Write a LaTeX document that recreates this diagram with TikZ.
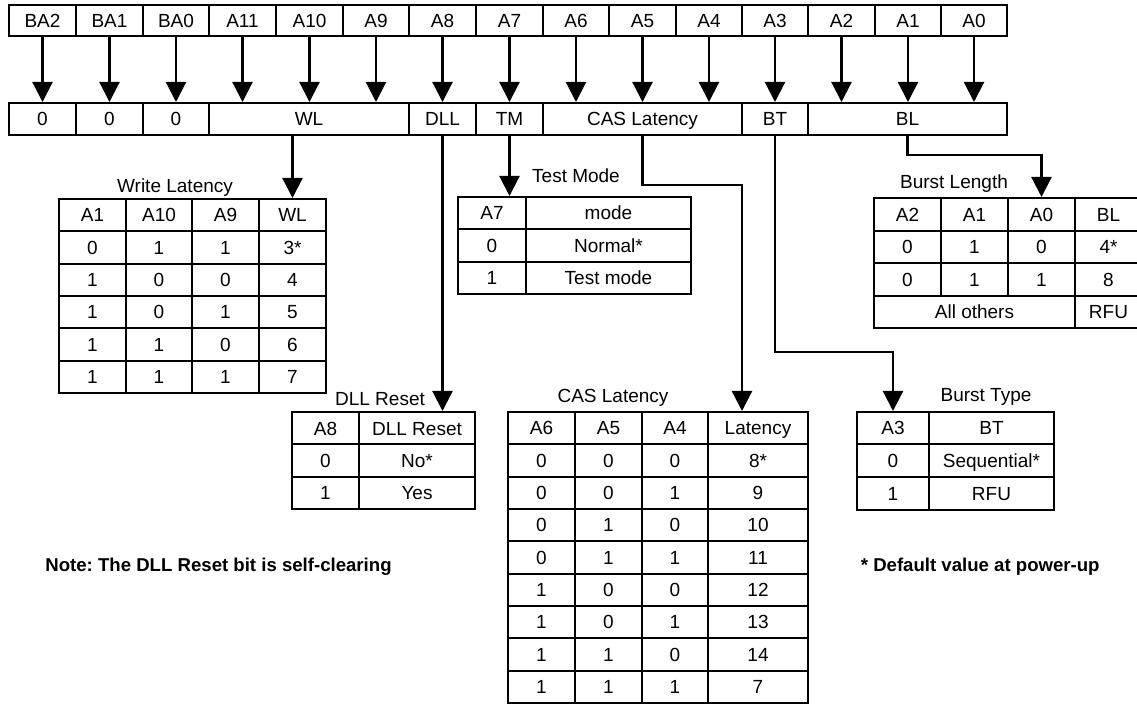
\documentclass[tikz,border=0pt]{standalone}
\usepackage{fontspec}
\setmainfont{Liberation Sans}
\usetikzlibrary{arrows.meta}
\frenchspacing
\newcommand\mycell[6]{%
 \pgfmathsetmacro\mcw{(#4-#2)*0.5}%
 \pgfmathsetmacro\mch{(#5-#3)*0.5}%
 \node[cellst, minimum width=\mcw pt, minimum height=\mch pt] (#1) at ({(#2+#4)/2},{(#3+#5)/2}) {#6};}
\newcommand\tabrow[4]{\foreach \xa/\xb/\tx [count=\ci] in {#4}{\mycell{#1\ci}{\xa}{#2}{\xb}{#3}{\tx}}}
\tikzset{
 cellst/.style={draw, line width=1pt, inner sep=0pt, text height=6.8pt, text depth=0pt, font=\fontsize{9.5}{11}\selectfont},
 ttl/.style={anchor=base, inner sep=0pt, font=\fontsize{9.5}{11}\selectfont},
 note/.style={inner sep=0pt, font=\fontsize{9.3}{11}\selectfont\bfseries},
 arr/.style={line width=1.1pt, -{Triangle[width=10pt,length=10pt]}}
}
\begin{document}
\begin{tikzpicture}[x=0.5pt,y=-0.5pt]
\useasboundingbox (0,0) rectangle (1137,705);
\clip (0,0) rectangle (1137,705);
% top row
\tabrow{t}{5}{36}{9/76/BA2, 76/143/BA1, 143/209/BA0, 209/276/A11, 276/343/A10, 343/409/A9, 409/476/A8, 476/543/A7, 543/609/A6, 609/676/A5, 676/742/A4, 742/808/A3, 808/875/A2, 875/941/A1, 941/1007/A0}
% second row
\mycell{r1}{9}{103}{76}{135}{0}
\mycell{r2}{76}{103}{143}{135}{0}
\mycell{r3}{143}{103}{209}{135}{0}
\mycell{wl}{209}{103}{409}{135}{WL}
\mycell{dll}{409}{103}{476}{135}{DLL}
\mycell{tm}{476}{103}{543}{135}{TM}
\mycell{cas}{543}{103}{742}{135}{CAS Latency}
\mycell{bt}{742}{103}{808}{135}{BT}
\mycell{bl}{808}{103}{1007}{135}{BL}
\foreach \i/\b in {1/r1,2/r2,3/r3,4/wl,5/wl,6/wl,7/dll,8/tm,9/cas,10/cas,11/cas,12/bt,13/bl,14/bl,15/bl}
  \draw[arr] (t\i.south) -- (t\i.south |- \b.north);
% Write Latency table
\node[ttl] (wlt) at (175,193) {Write Latency};
\tabrow{wlh}{199}{231.3}{59/126/A1, 126/192/A10, 192/259/A9, 259/326/WL}
\tabrow{wla}{231.3}{263.7}{59/126/0, 126/192/1, 192/259/1, 259/326/3*}
\tabrow{wlb}{263.7}{296}{59/126/1, 126/192/0, 192/259/0, 259/326/4}
\tabrow{wlc}{296}{328.3}{59/126/1, 126/192/0, 192/259/1, 259/326/5}
\tabrow{wld}{328.3}{360.7}{59/126/1, 126/192/1, 192/259/0, 259/326/6}
\tabrow{wle}{360.7}{393}{59/126/1, 126/192/1, 192/259/1, 259/326/7}
% Test Mode table
\node[ttl] (tmt) at (576,183) {Test Mode};
\tabrow{tmh}{197}{229}{458/526/A7, 526/691/mode}
\tabrow{tma}{229}{262}{458/526/0, 526/691/Normal*}
\tabrow{tmb}{262}{294}{458/526/1, 526/691/Test mode}
% Burst Length table
\node[ttl] (blt) at (954,188.5) {Burst Length};
\tabrow{blh}{198}{231}{874/941/A2, 941/1008/A1, 1008/1075/A0, 1075/1142/BL}
\tabrow{bla}{231}{263}{874/941/0, 941/1008/1, 1008/1075/0, 1075/1142/4*}
\tabrow{blb}{263}{296}{874/941/0, 941/1008/1, 1008/1075/1, 1075/1142/8}
\tabrow{blc}{296}{328}{874/1075/All others, 1075/1142/RFU}
% DLL Reset table
\node[ttl] (dlt) at (380,406) {DLL Reset};
\tabrow{dllh}{412}{444.5}{292/359/A8, 359/475/DLL Reset}
\tabrow{dlla}{444.5}{477}{292/359/0, 359/475/No*}
\tabrow{dllb}{477}{509}{292/359/1, 359/475/Yes}
% CAS Latency table
\node[ttl] (cat) at (613,403) {CAS Latency};
\tabrow{cash}{412}{444.3}{508/575/A6, 575/642/A5, 642/708/A4, 708/808/Latency}
\tabrow{casa}{444.3}{476.7}{508/575/0, 575/642/0, 642/708/0, 708/808/8*}
\tabrow{casb}{476.7}{509}{508/575/0, 575/642/0, 642/708/1, 708/808/9}
\tabrow{casc}{509}{541.3}{508/575/0, 575/642/1, 642/708/0, 708/808/10}
\tabrow{casd}{541.3}{573.7}{508/575/0, 575/642/1, 642/708/1, 708/808/11}
\tabrow{case}{573.7}{606}{508/575/1, 575/642/0, 642/708/0, 708/808/12}
\tabrow{casf}{606}{638.3}{508/575/1, 575/642/0, 642/708/1, 708/808/13}
\tabrow{casg}{638.3}{670.7}{508/575/1, 575/642/1, 642/708/0, 708/808/14}
\tabrow{cask}{670.7}{703}{508/575/1, 575/642/1, 642/708/1, 708/808/7}
% Burst Type table
\node[ttl] (btt) at (986,402) {Burst Type};
\tabrow{bth}{412}{444}{857/929/A3, 929/1054/BT}
\tabrow{bta}{444}{477}{857/929/0, 929/1054/Sequential*}
\tabrow{btb}{477}{510}{857/929/1, 929/1054/RFU}
% connectors from second row
\draw[arr] (wl.south -| wlh4.north) -- (wlh4.north);
\draw[arr] (dll.south) -- (dll.south |- dllh2.north);
\draw[arr] (tm.south) -- (tm.south |- tmh1.north);
\coordinate (casbend) at (742,185);
\draw[arr] (cas.south) |- (casbend) -- (casbend |- cash4.north);
\coordinate (btlvl) at (0,352);
\draw[arr] (bt.south) |- (bth1.north |- btlvl) -- (bth1.north);
\coordinate (bllvl) at (0,155);
\draw[arr] (bl.south) |- (blh3.north |- bllvl) -- (blh3.north);
% notes
\node[note, anchor=base west] (n1) at (45,572) {Note: The DLL Reset bit is self-clearing};
\node[note, anchor=base east] (n2) at (1100,572) {* Default value at power-up};
\end{tikzpicture}
\end{document}
